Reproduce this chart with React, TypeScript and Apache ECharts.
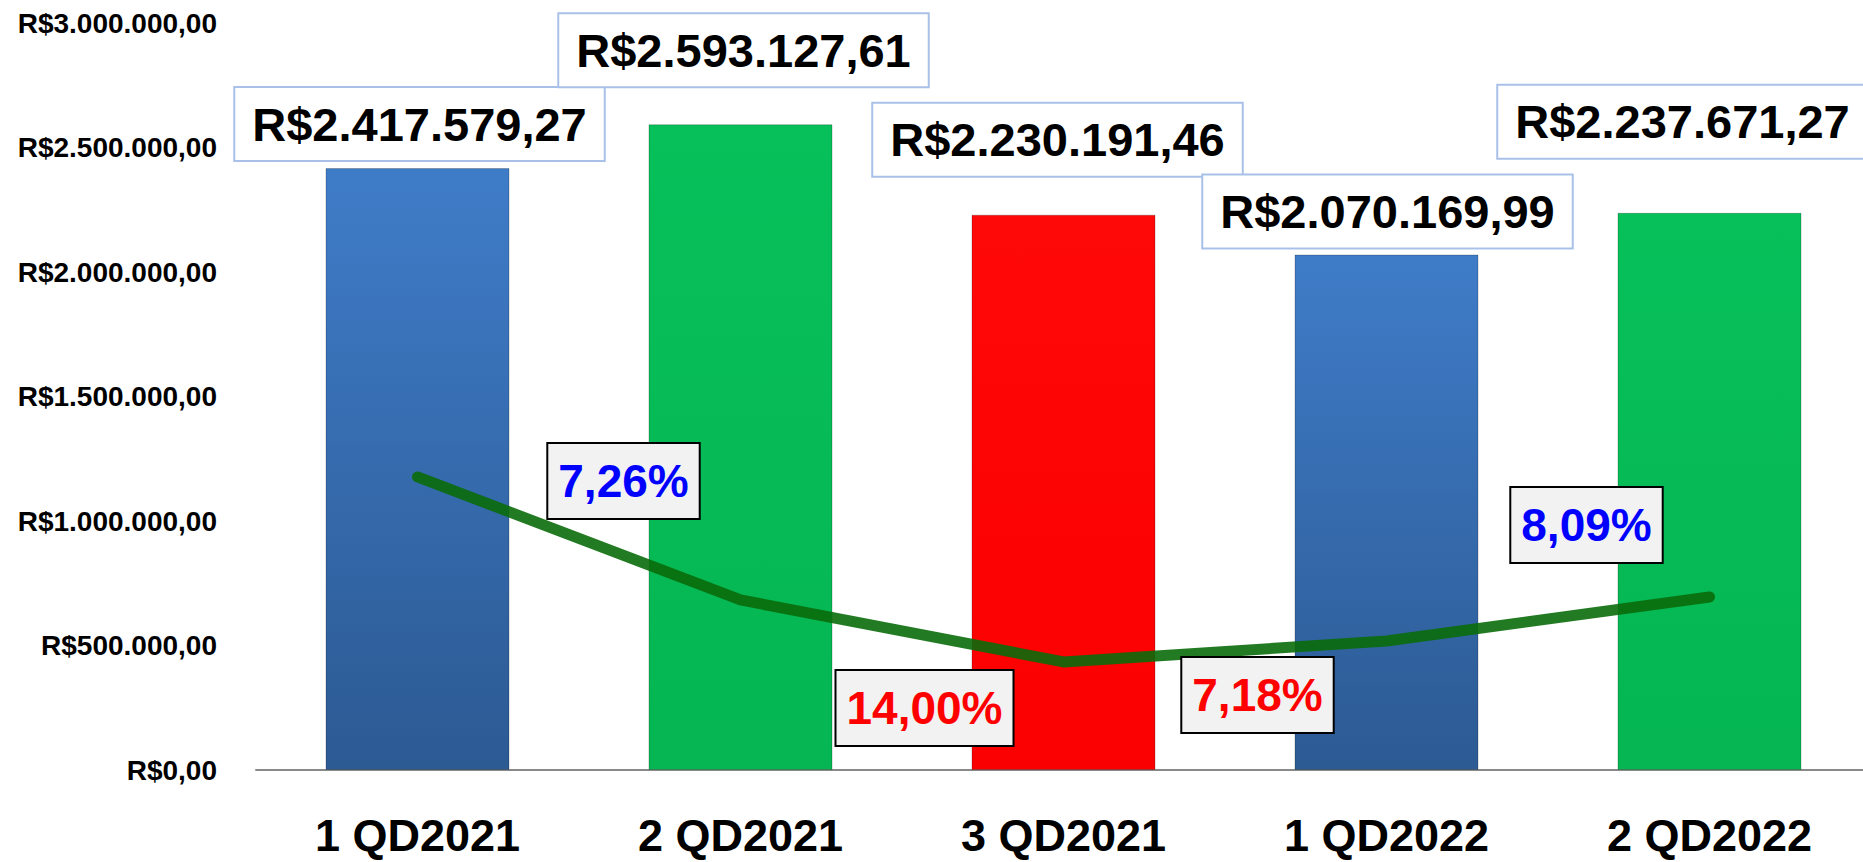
import React, { useEffect, useRef } from "react";
import * as echarts from "echarts";

const categories = ["1 QD2021", "2 QD2021", "3 QD2021", "1 QD2022", "2 QD2022"];
const barValues = [2417579.27, 2593127.61, 2230191.46, 2070169.99, 2237671.27];
const barKinds = ["blue", "green", "red", "blue", "green"];
const lineValues = [1177000, 683000, 434000, 518000, 695000];
const pctValues: (number | null)[] = [null, 7.26, -14.0, -7.18, 8.09];
const yTicks = { min: 0, max: 3000000, interval: 500000 };

// layout-only: label offsets (px) relative to default positions
const barLabelOffsets = [[2, -8], [3, -38], [-6, -39], [1, -7], [-27, -55]];
const pctLabelOffsets = [[0, 0], [-117, -119], [-139, 46], [-129, 54], [-123, -72]];

const FONT = "'Liberation Sans', Arial, sans-serif";

function brl(v: number): string {
  const [i, d] = v.toFixed(2).split(".");
  const withDots = i.replace(/\B(?=(\d{3})+(?!\d))/g, ".");
  return "R$" + withDots + "," + d;
}

function pct(v: number): string {
  return Math.abs(v).toFixed(2).replace(".", ",") + "%";
}

const barColors: Record<string, any> = {
  blue: new echarts.graphic.LinearGradient(0, 0, 0, 1, [
    { offset: 0, color: "#3f7cc8" },
    { offset: 1, color: "#2c5a93" },
  ]),
  green: new echarts.graphic.LinearGradient(0, 0, 0, 1, [
    { offset: 0, color: "#07c05a" },
    { offset: 1, color: "#05b652" },
  ]),
  red: new echarts.graphic.LinearGradient(0, 0, 0, 1, [
    { offset: 0, color: "#ff0808" },
    { offset: 1, color: "#fb0000" },
  ]),
};

export default function App() {
  const ref = useRef<HTMLDivElement>(null);
  useEffect(() => {
    if (!ref.current) return;
    const chart = echarts.init(ref.current, null, { renderer: "svg" });
    chart.setOption({
      animation: false,
      backgroundColor: "#ffffff",
      grid: {
        left: 256,
        top: 23,
        width: 1615,
        height: 747,
        containLabel: false,
        outerBoundsMode: "none",
      },
      xAxis: {
        type: "category",
        data: categories,
        axisLine: { show: true, lineStyle: { color: "#898989", width: 2 } },
        axisTick: { show: false },
        axisLabel: {
          interval: 0,
          margin: 42,
          color: "#000",
          fontSize: 45,
          lineHeight: 46,
          fontWeight: "bold",
          fontFamily: FONT,
        },
      },
      yAxis: {
        type: "value",
        min: yTicks.min,
        max: yTicks.max,
        interval: yTicks.interval,
        axisLine: { show: false },
        axisTick: { show: false },
        splitLine: { show: false },
        axisLabel: {
          margin: 39,
          color: "#000",
          fontSize: 28,
          fontWeight: "bold",
          fontFamily: FONT,
          formatter: (v: number) => brl(v),
        },
      },
      series: [
        {
          type: "bar",
          barWidth: 184,
          data: barValues.map((v, i) => ({
            value: v,
            itemStyle: {
              color: barColors[barKinds[i]],
              borderColor: "rgba(0,0,0,0.22)",
              borderWidth: 1,
            },
            label: { offset: barLabelOffsets[i] },
          })),
          label: {
            show: true,
            position: "top",
            distance: 0,
            formatter: (p: any) => brl(p.value),
            color: "#000",
            fontSize: 47,
            fontWeight: "bold",
            fontFamily: FONT,
            lineHeight: 60,
            backgroundColor: "#ffffff",
            borderColor: "#a9c1e8",
            borderWidth: 2,
            padding: [6, 17],
          },
        },
        {
          type: "line",
          data: lineValues.map((v, i) => {
            const p = pctValues[i];
            return {
              value: v,
              label: {
                show: p !== null,
                offset: pctLabelOffsets[i],
                formatter: p === null ? "" : pct(p),
                color: p !== null && p < 0 ? "#ff0000" : "#0000ff",
              },
            };
          }),
          symbol: "circle",
          symbolSize: 1,
          itemStyle: { color: "#0a6e0a" },
          lineStyle: { color: "#0a6c0a", width: 11, cap: "round", join: "round", opacity: 0.9 },
          z: 5,
          label: {
            show: true,
            position: "inside",
            fontSize: 46,
            fontWeight: "bold",
            fontFamily: FONT,
            lineHeight: 60,
            backgroundColor: "#f2f2f2",
            borderColor: "#000000",
            borderWidth: 2,
            padding: [7, 10],
          },
        },
      ],
    });
    return () => chart.dispose();
  }, []);
  return (
    <div
      ref={ref}
      style={{ position: "fixed", left: 0, top: 0, width: 1863, height: 862 }}
    />
  );
}
